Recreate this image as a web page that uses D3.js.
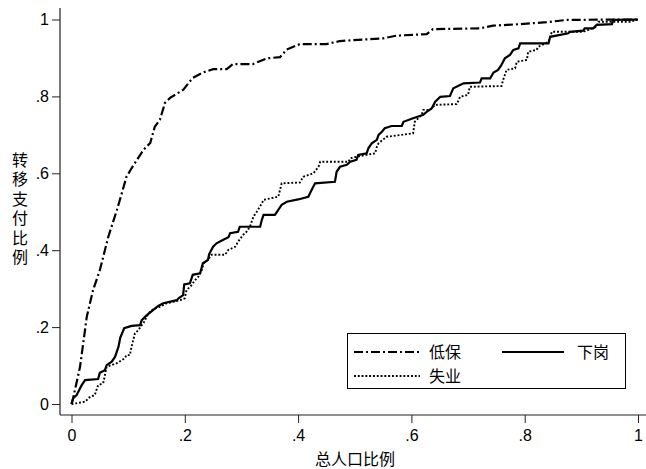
<!DOCTYPE html>
<html>
<head>
<meta charset="utf-8">
<script src="https://cdn.jsdelivr.net/npm/d3@7"></script>
<style>
  body { margin: 0; background: #fff; }
  text { font-family: "Liberation Sans", Arial, sans-serif; fill: #000; }
  .cjk { font-family: "Noto Sans CJK SC", sans-serif; }
</style>
</head>
<body>
<div id="body"></div>
<script>
// 低保 (dash-dot)
var dibaoX = [0, 0.003, 0.015, 0.027, 0.038, 0.050, 0.065, 0.080, 0.089, 0.097, 0.106, 0.127, 0.139, 0.147, 0.156, 0.165, 0.174, 0.197, 0.214, 0.232, 0.250, 0.274, 0.285, 0.320, 0.345, 0.368, 0.380, 0.403, 0.450, 0.474, 0.550, 0.574, 0.627, 0.638, 0.721, 0.744, 0.792, 0.839, 0.874, 1.0];
var dibaoY = [0, 0.016, 0.096, 0.227, 0.296, 0.348, 0.435, 0.504, 0.549, 0.591, 0.613, 0.661, 0.679, 0.721, 0.739, 0.783, 0.796, 0.817, 0.848, 0.862, 0.871, 0.871, 0.884, 0.884, 0.899, 0.902, 0.922, 0.936, 0.936, 0.944, 0.951, 0.958, 0.962, 0.975, 0.977, 0.984, 0.988, 0.993, 0.999, 1.0];

// 下岗 (solid)
var xiagangX = [0, 0.003, 0.009, 0.018, 0.024, 0.047, 0.050, 0.059, 0.062, 0.071, 0.077, 0.083, 0.086, 0.093, 0.106, 0.121, 0.124, 0.133, 0.144, 0.153, 0.162, 0.186, 0.189, 0.197, 0.199, 0.209, 0.214, 0.227, 0.232, 0.241, 0.243, 0.250, 0.256, 0.268, 0.277, 0.280, 0.294, 0.297, 0.333, 0.336, 0.339, 0.359, 0.365, 0.371, 0.380, 0.400, 0.418, 0.424, 0.430, 0.465, 0.468, 0.474, 0.486, 0.492, 0.503, 0.506, 0.521, 0.524, 0.530, 0.539, 0.542, 0.548, 0.553, 0.565, 0.583, 0.586, 0.603, 0.621, 0.627, 0.636, 0.642, 0.651, 0.668, 0.674, 0.692, 0.721, 0.724, 0.739, 0.745, 0.753, 0.759, 0.765, 0.774, 0.780, 0.789, 0.792, 0.842, 0.845, 0.877, 0.880, 0.903, 0.906, 0.921, 0.927, 0.954, 0.956, 1.0];
var xiagangY = [0, 0.015, 0.023, 0.049, 0.062, 0.065, 0.081, 0.088, 0.101, 0.110, 0.123, 0.149, 0.172, 0.197, 0.203, 0.205, 0.218, 0.231, 0.244, 0.255, 0.262, 0.270, 0.275, 0.283, 0.311, 0.314, 0.336, 0.340, 0.366, 0.375, 0.390, 0.409, 0.418, 0.427, 0.434, 0.444, 0.448, 0.461, 0.461, 0.479, 0.492, 0.492, 0.505, 0.518, 0.526, 0.532, 0.539, 0.557, 0.574, 0.578, 0.604, 0.617, 0.622, 0.630, 0.635, 0.648, 0.652, 0.665, 0.678, 0.687, 0.700, 0.708, 0.717, 0.723, 0.723, 0.734, 0.743, 0.752, 0.760, 0.769, 0.786, 0.799, 0.801, 0.821, 0.834, 0.836, 0.847, 0.847, 0.862, 0.869, 0.882, 0.899, 0.908, 0.921, 0.925, 0.938, 0.938, 0.955, 0.964, 0.968, 0.971, 0.977, 0.977, 0.986, 0.988, 0.999, 1.0];

// 失业 (dotted)
var shiyeX = [0, 0.009, 0.024, 0.033, 0.041, 0.047, 0.056, 0.062, 0.080, 0.094, 0.097, 0.103, 0.106, 0.112, 0.118, 0.124, 0.127, 0.136, 0.144, 0.156, 0.168, 0.192, 0.200, 0.203, 0.212, 0.218, 0.224, 0.230, 0.233, 0.241, 0.247, 0.271, 0.277, 0.289, 0.294, 0.303, 0.309, 0.315, 0.321, 0.327, 0.336, 0.339, 0.365, 0.371, 0.403, 0.409, 0.427, 0.436, 0.439, 0.489, 0.492, 0.503, 0.521, 0.536, 0.539, 0.542, 0.556, 0.603, 0.606, 0.618, 0.621, 0.633, 0.642, 0.680, 0.686, 0.700, 0.703, 0.759, 0.762, 0.768, 0.783, 0.786, 0.804, 0.806, 0.821, 0.824, 0.842, 0.848, 0.903, 0.927, 0.930, 0.986, 1.0];
var shiyeY = [0, 0.002, 0.006, 0.019, 0.023, 0.049, 0.054, 0.097, 0.106, 0.119, 0.127, 0.127, 0.149, 0.184, 0.192, 0.205, 0.210, 0.236, 0.246, 0.253, 0.262, 0.270, 0.275, 0.296, 0.309, 0.322, 0.331, 0.348, 0.366, 0.375, 0.388, 0.388, 0.401, 0.409, 0.422, 0.440, 0.448, 0.461, 0.487, 0.500, 0.522, 0.531, 0.539, 0.574, 0.576, 0.591, 0.600, 0.617, 0.630, 0.630, 0.639, 0.643, 0.648, 0.652, 0.669, 0.678, 0.695, 0.704, 0.734, 0.752, 0.765, 0.765, 0.778, 0.780, 0.799, 0.804, 0.825, 0.827, 0.843, 0.869, 0.873, 0.890, 0.895, 0.916, 0.921, 0.929, 0.942, 0.968, 0.968, 0.981, 0.994, 0.994, 1.0];

var ticks = [0, 0.2, 0.4, 0.6, 0.8, 1];
var tickLabels = ["0", ".2", ".4", ".6", ".8", "1"];
var yTitle = "转移支付比例";
var xTitle = "总人口比例";

var width = 646, height = 469;

var x = d3.scaleLinear().domain([0, 1]).range([71.5, 638]);
var y = d3.scaleLinear().domain([0, 1]).range([404, 19.5]);

var svg = d3.select("#body").append("svg")
    .attr("width", width)
    .attr("height", height);

// axes (Stata style, offset from the data area)
var xAxis = d3.axisBottom(x).tickValues(ticks).tickSize(8)
    .tickFormat((d, i) => tickLabels[i]);
var yAxis = d3.axisLeft(y).tickValues(ticks).tickSize(8)
    .tickFormat((d, i) => tickLabels[i]);

var gx = svg.append("g")
    .attr("transform", "translate(0,415)")
    .call(xAxis);
gx.select(".domain").remove();
gx.append("line")
    .attr("x1", 60).attr("x2", width)
    .attr("stroke", "#222").attr("stroke-width", 1.2);

var gy = svg.append("g")
    .attr("transform", "translate(60,0)")
    .call(yAxis);
gy.select(".domain").remove();
gy.append("line")
    .attr("y1", 8).attr("y2", 415)
    .attr("stroke", "#222").attr("stroke-width", 1.2);

svg.selectAll(".tick line").attr("stroke", "#222");
svg.selectAll(".tick text")
    .style("font-family", "'Liberation Sans', Arial, sans-serif")
    .style("font-size", "16px")
    .attr("fill", "#000");
gx.selectAll(".tick text").attr("dy", "0.95em");
gy.selectAll(".tick text").attr("x", -11);

// titles
svg.append("text")
    .attr("class", "cjk")
    .attr("x", 355)
    .attr("y", 465)
    .attr("text-anchor", "middle")
    .style("font-size", "16px")
    .text(xTitle);

// vertical, stacked characters as one text
svg.append("text")
    .attr("class", "cjk")
    .attr("x", 20)
    .attr("y", 210)
    .attr("text-anchor", "middle")
    .style("writing-mode", "vertical-rl")
    .style("letter-spacing", "3.5px")
    .style("font-size", "16px")
    .text(yTitle);

// curves
var line = d3.line()
    .x(d => x(d[0]))
    .y(d => y(d[1]));

var series = [
    { name: "低保", xs: dibaoX, ys: dibaoY, width: 2.2, dash: "9,3,2,3" },
    { name: "下岗", xs: xiagangX, ys: xiagangY, width: 2.2, dash: null },
    { name: "失业", xs: shiyeX, ys: shiyeY, width: 1.9, dash: "1.9,1.9" }
];

svg.append("g").selectAll("path")
    .data(series)
    .enter().append("path")
    .attr("fill", "none")
    .attr("stroke", "#000")
    .attr("stroke-width", d => d.width)
    .attr("stroke-dasharray", d => d.dash)
    .attr("d", d => line(d.xs.map((v, i) => [v, d.ys[i]])));

// legend
var legend = svg.append("g");
legend.append("rect")
    .attr("x", 347.5).attr("y", 333.5)
    .attr("width", 278).attr("height", 55)
    .attr("fill", "#fff")
    .attr("stroke", "#000")
    .attr("stroke-width", 1);

var legendPos = [
    { x: 354, y: 352 },
    { x: 502, y: 352 },
    { x: 354, y: 376 }
];

legend.selectAll("line.key")
    .data(series)
    .enter().append("line")
    .attr("class", "key")
    .attr("x1", (d, i) => legendPos[i].x)
    .attr("x2", (d, i) => legendPos[i].x + (i == 1 ? 62 : 66))
    .attr("y1", (d, i) => legendPos[i].y)
    .attr("y2", (d, i) => legendPos[i].y)
    .attr("stroke", "#000")
    .attr("stroke-width", d => d.width)
    .attr("stroke-dasharray", d => d.dash);

legend.selectAll("text")
    .data(series)
    .enter().append("text")
    .attr("class", "cjk")
    .attr("x", (d, i) => legendPos[i].x + 75)
    .attr("y", (d, i) => legendPos[i].y + 6)
    .style("font-size", "16px")
    .text(d => d.name);
</script>
</body>
</html>
